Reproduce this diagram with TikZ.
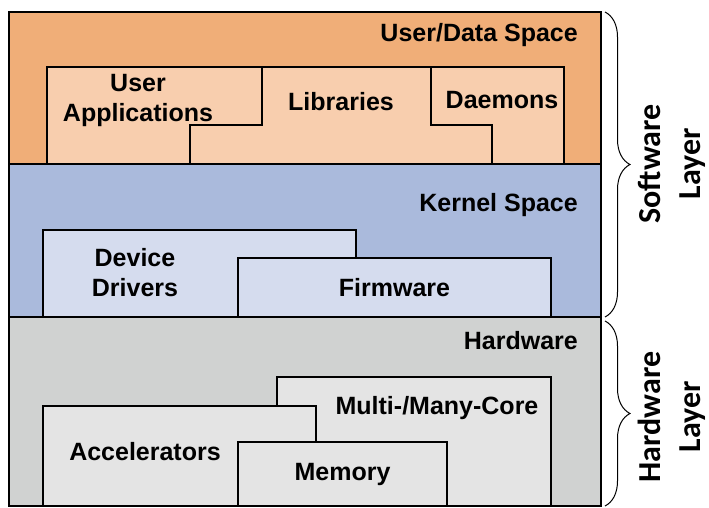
\documentclass[tikz,border=0pt]{standalone}
\usepackage{fontspec}
\setmainfont{Liberation Sans}
\newfontfamily\bracefont{Carlito}
\usetikzlibrary{positioning,decorations.pathreplacing}
\definecolor{userorange}{RGB}{240,174,120}
\definecolor{userlight}{RGB}{248,206,174}
\definecolor{kernelblue}{RGB}{170,186,220}
\definecolor{kernellight}{RGB}{213,220,238}
\definecolor{hwgray}{RGB}{208,210,209}
\definecolor{hwlight}{RGB}{228,228,228}

\begin{document}
\begin{tikzpicture}[x=1pt, y=-1pt,
    spacebox/.style={draw, line width=2pt, inner sep=0pt, outer sep=0pt, minimum width=592pt, anchor=north west},
    compbox/.style={draw, line width=2pt, inner sep=0pt, outer sep=0pt, anchor=south west, font=\fontsize{25}{30}\selectfont\bfseries},
    spacename/.style={inner sep=0pt, anchor=base east, font=\fontsize{25}{30}\selectfont\bfseries},
    compname/.style={inner sep=0pt, align=center, font=\fontsize{25}{30}\selectfont\bfseries},
    divider/.style={line width=2pt},
    layerbrace/.style={line width=1pt, decorate, decoration={brace, amplitude=25pt}},
    layername/.style={rotate=90, align=center, font=\bracefont\fontsize{32}{40}\selectfont\bfseries}
  ]
    \useasboundingbox (0,0) rectangle (709,508);

    % The three spaces.
    \node[spacebox, fill=userorange, minimum height=152pt] at (9,12) (userspace) {};
    \node[spacebox, fill=kernelblue, minimum height=153pt] at (userspace.south west) (kernelspace) {};
    \node[spacebox, fill=hwgray, minimum height=189pt] at (kernelspace.south west) (hardware) {};
    \node[spacename] at ([xshift=-23pt,yshift=-30pt]userspace.north east) (usertitle) {User/Data Space};
    \node[spacename] at ([xshift=-23pt,yshift=-47pt]kernelspace.north east) (kerneltitle) {Kernel Space};
    \node[spacename] at ([xshift=-23pt,yshift=-32pt]hardware.north east) (hwtitle) {Hardware};

    % User/data space: applications, libraries, daemons.
    \node[compbox, fill=userlight, minimum width=517pt, minimum height=97pt] at ([xshift=38pt]userspace.south west) (userrow) {};
    \draw[divider] ([xshift=215pt]userrow.north west) -- ++(0,58) -- ++(-72,0) -- ++(0,39);
    \draw[divider] ([xshift=384pt]userrow.north west) -- ++(0,58) -- ++(61,0) -- ++(0,39);
    \node[compname] at ([xshift=91pt,yshift=-33pt]userrow.north west) (userapps) {User\\Applications};
    \node[compname] at ([xshift=294pt,yshift=-35pt]userrow.north west) (libraries) {Libraries};
    \node[compname] at ([xshift=455pt,yshift=-33pt]userrow.north west) (daemons) {Daemons};

    % Kernel space.
    \node[compbox, fill=kernellight, minimum width=313pt, minimum height=87pt] at ([xshift=34pt]kernelspace.south west) (drivers) {};
    \node[compname] at ([xshift=92pt,yshift=-43pt]drivers.north west) (driverstext) {Device\\Drivers};
    \node[compbox, fill=kernellight, minimum width=313pt, minimum height=59pt] at ([xshift=229pt]kernelspace.south west) (firmware) {Firmware};

    % Hardware.
    \node[compbox, fill=hwlight, minimum width=274pt, minimum height=129pt] at ([xshift=268pt]hardware.south west) (multicore) {};
    \node[compname] at ([xshift=160pt,yshift=-31pt]multicore.north west) (multicoretext) {Multi-/Many-Core};
    \node[compbox, fill=hwlight, minimum width=273pt, minimum height=100pt] at ([xshift=34pt]hardware.south west) (accel) {};
    \node[compname] at ([xshift=102pt,yshift=-46pt]accel.north west) (acceltext) {Accelerators};
    \node[compbox, fill=hwlight, minimum width=209pt, minimum height=64pt] at ([xshift=229pt]hardware.south west) (memory) {Memory};

    % Layer braces.
    \draw[layerbrace] ([xshift=4pt]userspace.north east) -- ([xshift=4pt]kernelspace.south east);
    \draw[layerbrace] ([xshift=4pt,yshift=-4pt]hardware.north east) -- ([xshift=4pt]hardware.south east);
    \node[layername] at ([xshift=71pt]userspace.south east) (swlayer) {Software\\Layer};
    \node[layername] at ([xshift=71pt,yshift=-100pt]hardware.north east) (hwlayer) {Hardware\\Layer};
  \end{tikzpicture}
\end{document}
